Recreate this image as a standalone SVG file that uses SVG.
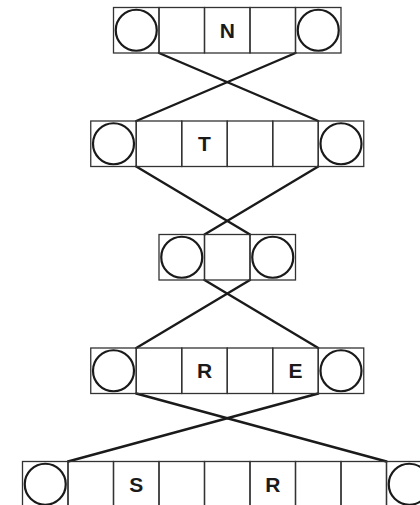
<svg xmlns="http://www.w3.org/2000/svg" width="420" height="505" viewBox="0 0 420 505">
<style>
.cell{fill:none;stroke:#333;stroke-width:1.3}
.ring{fill:none;stroke:#1a1a1a;stroke-width:2.2}
.link{stroke:#1a1a1a;stroke-width:2.4;fill:none;stroke-linecap:round}
.lbl{font-family:"Liberation Sans",Arial,sans-serif;font-weight:bold;font-size:21px;fill:#1a1a1a;text-anchor:middle}
</style>
<rect width="420" height="505" fill="#fff"/>
<g id="connectors">
<line class="link" x1="159" y1="53" x2="318.25" y2="121"/>
<line class="link" x1="295.5" y1="53" x2="136.25" y2="121"/>
<line class="link" x1="136.25" y1="166.5" x2="250" y2="234.5"/>
<line class="link" x1="318.25" y1="166.5" x2="204.5" y2="234.5"/>
<line class="link" x1="204.5" y1="280" x2="318.25" y2="348"/>
<line class="link" x1="250" y1="280" x2="136.25" y2="348"/>
<line class="link" x1="136.25" y1="393.5" x2="386.5" y2="461.5"/>
<line class="link" x1="318.25" y1="393.5" x2="68" y2="461.5"/>
</g>
<g id="row1">
<rect class="cell" x="113.5" y="7.5" width="45.5" height="45.5"/>
<rect class="cell" x="159" y="7.5" width="45.5" height="45.5"/>
<rect class="cell" x="204.5" y="7.5" width="45.5" height="45.5"/>
<rect class="cell" x="250" y="7.5" width="45.5" height="45.5"/>
<rect class="cell" x="295.5" y="7.5" width="45.5" height="45.5"/>
<circle class="ring" cx="136.25" cy="30.25" r="20.5"/>
<circle class="ring" cx="318.25" cy="30.25" r="20.5"/>
<text class="lbl" x="227.25" y="37.8">N</text>
</g>
<g id="row2">
<rect class="cell" x="90.75" y="121" width="45.5" height="45.5"/>
<rect class="cell" x="136.25" y="121" width="45.5" height="45.5"/>
<rect class="cell" x="181.75" y="121" width="45.5" height="45.5"/>
<rect class="cell" x="227.25" y="121" width="45.5" height="45.5"/>
<rect class="cell" x="272.75" y="121" width="45.5" height="45.5"/>
<rect class="cell" x="318.25" y="121" width="45.5" height="45.5"/>
<circle class="ring" cx="113.5" cy="143.75" r="20.5"/>
<circle class="ring" cx="341" cy="143.75" r="20.5"/>
<text class="lbl" x="204.5" y="151.3">T</text>
</g>
<g id="row3">
<rect class="cell" x="159" y="234.5" width="45.5" height="45.5"/>
<rect class="cell" x="204.5" y="234.5" width="45.5" height="45.5"/>
<rect class="cell" x="250" y="234.5" width="45.5" height="45.5"/>
<circle class="ring" cx="181.75" cy="257.25" r="20.5"/>
<circle class="ring" cx="272.75" cy="257.25" r="20.5"/>
</g>
<g id="row4">
<rect class="cell" x="90.75" y="348" width="45.5" height="45.5"/>
<rect class="cell" x="136.25" y="348" width="45.5" height="45.5"/>
<rect class="cell" x="181.75" y="348" width="45.5" height="45.5"/>
<rect class="cell" x="227.25" y="348" width="45.5" height="45.5"/>
<rect class="cell" x="272.75" y="348" width="45.5" height="45.5"/>
<rect class="cell" x="318.25" y="348" width="45.5" height="45.5"/>
<circle class="ring" cx="113.5" cy="370.75" r="20.5"/>
<circle class="ring" cx="341" cy="370.75" r="20.5"/>
<text class="lbl" x="204.5" y="378.3">R</text>
<text class="lbl" x="295.5" y="378.3">E</text>
</g>
<g id="row5">
<rect class="cell" x="22.5" y="461.5" width="45.5" height="45.5"/>
<rect class="cell" x="68" y="461.5" width="45.5" height="45.5"/>
<rect class="cell" x="113.5" y="461.5" width="45.5" height="45.5"/>
<rect class="cell" x="159" y="461.5" width="45.5" height="45.5"/>
<rect class="cell" x="204.5" y="461.5" width="45.5" height="45.5"/>
<rect class="cell" x="250" y="461.5" width="45.5" height="45.5"/>
<rect class="cell" x="295.5" y="461.5" width="45.5" height="45.5"/>
<rect class="cell" x="341" y="461.5" width="45.5" height="45.5"/>
<rect class="cell" x="386.5" y="461.5" width="45.5" height="45.5"/>
<circle class="ring" cx="45.25" cy="484.25" r="20.5"/>
<circle class="ring" cx="409.25" cy="484.25" r="20.5"/>
<text class="lbl" x="136.25" y="491.8">S</text>
<text class="lbl" x="272.75" y="491.8">R</text>
</g>
</svg>
